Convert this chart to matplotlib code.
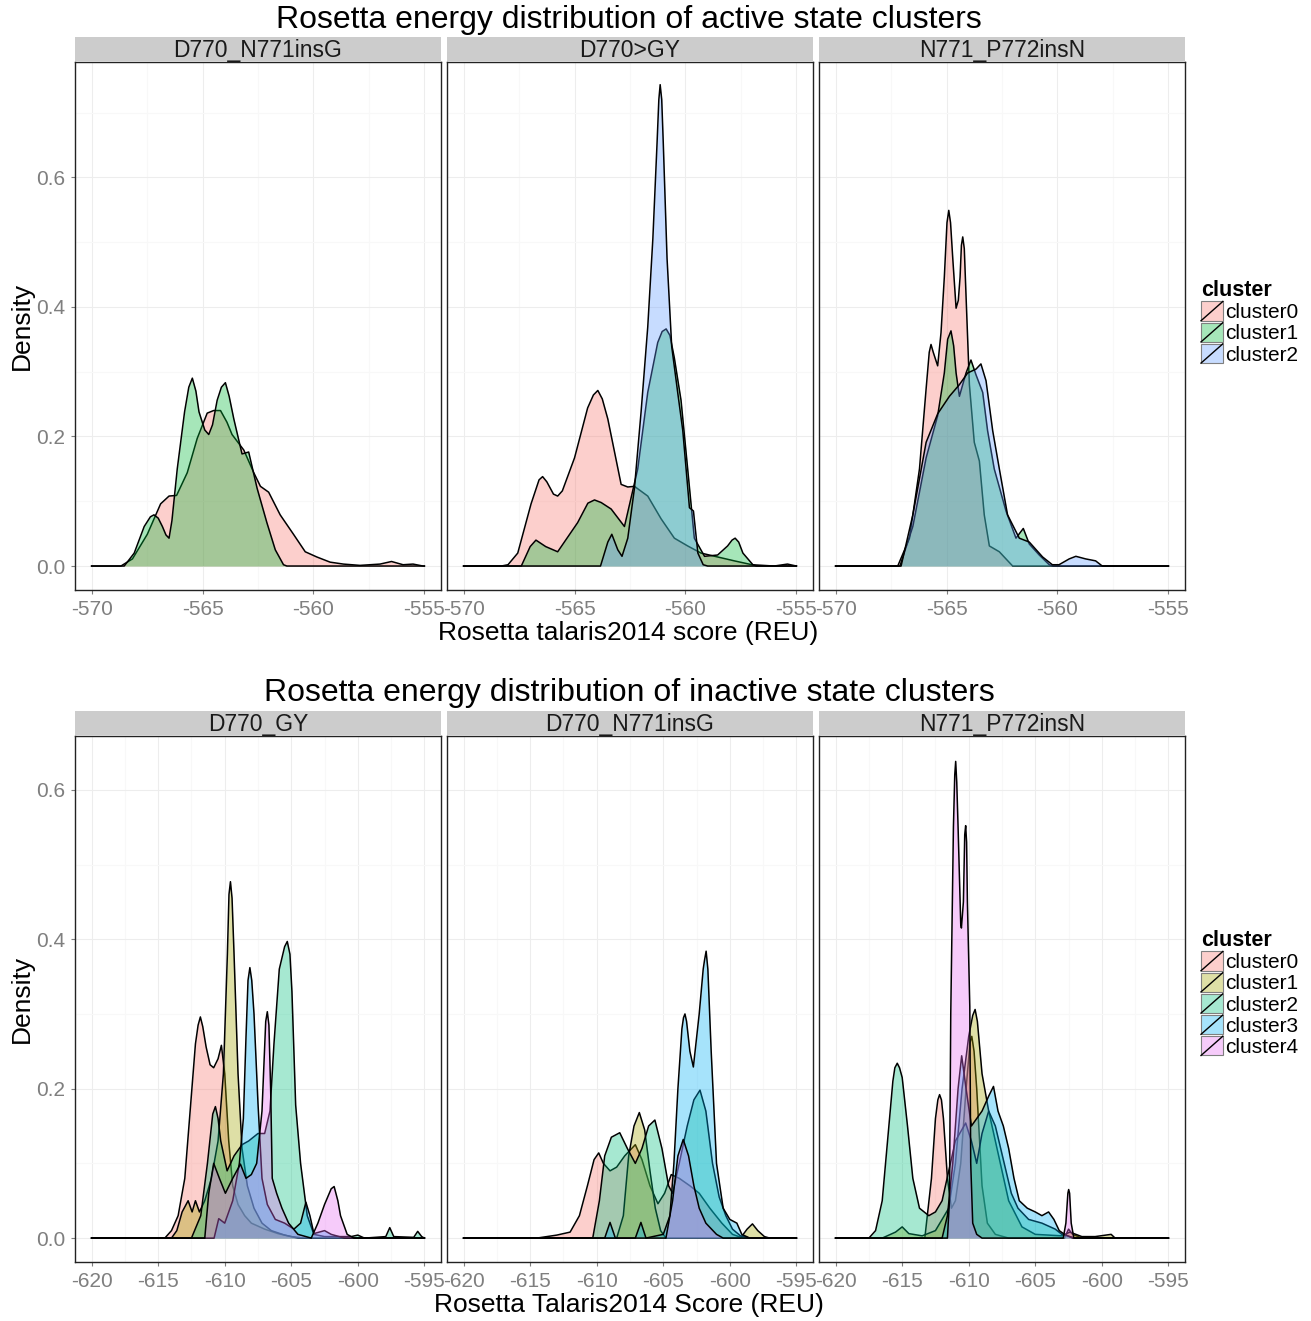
import matplotlib
matplotlib.use("Agg")
import matplotlib.pyplot as plt
from matplotlib.patches import Patch, Rectangle
from matplotlib.lines import Line2D
from matplotlib.legend_handler import HandlerBase

plt.rcParams['font.family'] = ['Liberation Sans', 'DejaVu Sans']
plt.rcParams['axes.unicode_minus'] = False

# ==== active state clusters: (score, density) points ====
act_insg_c0 = [(-568.68, 0), (-568.16, 0.011), (-567.49, 0.049), (-566.89, 0.096), (-566.51, 0.108),
               (-566.17, 0.109), (-565.69, 0.144), (-565.24, 0.197), (-564.79, 0.236), (-564.5, 0.24),
               (-564.19, 0.24), (-563.9, 0.222), (-563.67, 0.203), (-563.14, 0.179), (-562.69, 0.144),
               (-562.39, 0.123), (-562.02, 0.114), (-561.5, 0.079), (-560.9, 0.049), (-560.37, 0.022),
               (-559.85, 0.014), (-559.25, 0.006), (-558.65, 0.003), (-557.9, 0.001), (-557.0, 0.003),
               (-556.48, 0.007), (-555.96, 0.002), (-555.51, 0.003), (-555.06, 0)]
act_insg_c1 = [(-568.53, 0), (-568.08, 0.02), (-567.63, 0.061), (-567.35, 0.076), (-567.19, 0.079),
               (-567.0, 0.074), (-566.81, 0.061), (-566.65, 0.048), (-566.51, 0.043), (-566.38, 0.07),
               (-566.14, 0.15), (-565.81, 0.238), (-565.62, 0.276), (-565.46, 0.29), (-565.3, 0.27),
               (-565.16, 0.238), (-564.9, 0.21), (-564.72, 0.203), (-564.55, 0.218), (-564.34, 0.256),
               (-564.15, 0.276), (-563.97, 0.283), (-563.8, 0.262), (-563.59, 0.227), (-563.22, 0.173),
               (-562.92, 0.176), (-562.54, 0.12), (-562.1, 0.067), (-561.72, 0.025), (-561.35, 0.002),
               (-561.2, 0)]

act_gy_c0 = [(-568.3, 0), (-568.0, 0.002), (-567.56, 0.02), (-566.96, 0.096), (-566.6, 0.133),
             (-566.44, 0.138), (-566.25, 0.13), (-565.95, 0.111), (-565.76, 0.108), (-565.55, 0.116),
             (-565.0, 0.167), (-564.41, 0.244), (-564.15, 0.264), (-563.95, 0.271), (-563.75, 0.258),
             (-563.5, 0.227), (-562.9, 0.126), (-562.6, 0.122), (-562.3, 0.123), (-561.7, 0.108),
             (-561.1, 0.073), (-560.5, 0.043), (-559.9, 0.031), (-559.3, 0.02), (-558.55, 0.014),
             (-557.8, 0.008), (-557.0, 0.002), (-556.0, 0), (-555.4, 0.003), (-555.0, 0)]
act_gy_c1 = [(-567.4, 0), (-567.0, 0.03), (-566.74, 0.04), (-566.3, 0.03), (-565.76, 0.022),
             (-564.86, 0.067), (-564.4, 0.097), (-564.1, 0.102), (-563.8, 0.098), (-563.35, 0.088),
             (-562.75, 0.061), (-562.15, 0.15), (-561.7, 0.268), (-561.25, 0.345), (-561.05, 0.362),
             (-560.87, 0.366), (-560.7, 0.356), (-560.5, 0.321), (-560.2, 0.256), (-559.9, 0.15),
             (-559.6, 0.043), (-559.14, 0.015), (-558.55, 0.017), (-558.1, 0.031), (-557.9, 0.04),
             (-557.76, 0.043), (-557.6, 0.037), (-557.41, 0.02), (-556.96, 0.002), (-556.8, 0)]
act_gy_c2 = [(-563.83, 0), (-563.5, 0.037), (-563.32, 0.049), (-563.05, 0.025), (-562.86, 0.015),
             (-562.6, 0.043), (-562.3, 0.12), (-562.0, 0.238), (-561.7, 0.369), (-561.47, 0.505),
             (-561.28, 0.653), (-561.2, 0.72), (-561.14, 0.743), (-561.07, 0.72), (-561.0, 0.653),
             (-560.83, 0.475), (-560.62, 0.339), (-560.35, 0.268), (-560.12, 0.209), (-559.82, 0.09),
             (-559.64, 0.085), (-559.44, 0.02), (-559.2, 0.002), (-559.0, 0)]

act_insn_c0 = [(-567.2, 0), (-566.67, 0.043), (-566.22, 0.15), (-565.92, 0.274), (-565.78, 0.33),
               (-565.7, 0.342), (-565.6, 0.33), (-565.4, 0.309), (-565.25, 0.36), (-565.1, 0.446),
               (-564.98, 0.53), (-564.9, 0.549), (-564.82, 0.53), (-564.72, 0.475), (-564.57, 0.398),
               (-564.47, 0.41), (-564.39, 0.446), (-564.33, 0.495), (-564.27, 0.508), (-564.2, 0.49),
               (-564.12, 0.416), (-563.97, 0.28), (-563.75, 0.191), (-563.52, 0.162), (-563.3, 0.079),
               (-563.07, 0.031), (-562.62, 0.022), (-562.32, 0.011), (-562.02, 0)]
act_insn_c1 = [(-567.1, 0), (-566.52, 0.061), (-565.92, 0.167), (-565.4, 0.232), (-565.1, 0.298),
               (-564.95, 0.35), (-564.8, 0.363), (-564.68, 0.34), (-564.57, 0.298), (-564.42, 0.262),
               (-564.12, 0.298), (-563.9, 0.318), (-563.67, 0.295), (-563.37, 0.268), (-563.15, 0.209),
               (-562.85, 0.15), (-562.32, 0.085), (-561.87, 0.043), (-561.54, 0.058), (-561.27, 0.034),
               (-560.82, 0.017), (-560.37, 0.002), (-560.2, 0)]
act_insn_c2 = [(-567.05, 0), (-566.52, 0.079), (-565.92, 0.191), (-565.4, 0.235), (-564.87, 0.262),
               (-564.42, 0.28), (-564.05, 0.298), (-563.67, 0.304), (-563.45, 0.312), (-563.22, 0.286),
               (-562.92, 0.209), (-562.62, 0.15), (-562.25, 0.079), (-561.72, 0.043), (-561.27, 0.037),
               (-560.67, 0.014), (-560.23, 0.002), (-559.93, 0.002), (-559.47, 0.011), (-559.17, 0.015),
               (-558.73, 0.011), (-558.28, 0.008), (-557.98, 0)]

# ==== inactive state clusters ====
ina_gy_c0 = [(-614.5, 0), (-614.0, 0.01), (-613.5, 0.03), (-613.0, 0.08), (-612.6, 0.17), (-612.2, 0.26),
             (-612.0, 0.285), (-611.83, 0.296), (-611.65, 0.283), (-611.4, 0.256), (-611.1, 0.232),
             (-610.83, 0.228), (-610.5, 0.24), (-610.25, 0.258), (-610.0, 0.22), (-609.7, 0.13),
             (-609.4, 0.07), (-609.0, 0.045), (-608.5, 0.03), (-608.0, 0.02), (-607.0, 0.012), (-606.0, 0.006),
             (-605.0, 0.002), (-604.0, 0)]
ina_gy_c1 = [(-614.0, 0), (-613.6, 0.01), (-613.2, 0.035), (-612.75, 0.05), (-612.45, 0.035), (-612.2, 0.05),
             (-611.9, 0.035), (-611.5, 0.05), (-611.0, 0.08), (-610.5, 0.13), (-610.1, 0.22), (-609.8, 0.38),
             (-609.68, 0.46), (-609.57, 0.477), (-609.45, 0.455), (-609.3, 0.38), (-609.0, 0.22),
             (-608.7, 0.12), (-608.3, 0.07), (-607.8, 0.04), (-607.2, 0.02), (-606.5, 0.01), (-605.5, 0.004),
             (-604.5, 0)]
ina_gy_c2 = [(-612.5, 0), (-611.8, 0.03), (-611.3, 0.1), (-610.9, 0.166), (-610.7, 0.176), (-610.5, 0.16),
             (-610.3, 0.13), (-609.82, 0.09), (-609.3, 0.11), (-608.7, 0.125), (-608.2, 0.13), (-607.5, 0.14),
             (-607.0, 0.14), (-606.6, 0.17), (-606.3, 0.26), (-605.9, 0.36), (-605.5, 0.39), (-605.3, 0.397),
             (-605.1, 0.38), (-604.95, 0.33), (-604.67, 0.178), (-604.3, 0.1), (-603.8, 0.03), (-603.3, 0.005),
             (-602.5, 0.002), (-600.5, 0.002), (-600.0, 0.004), (-599.5, 0), (-597.9, 0.002), (-597.6, 0.014),
             (-597.3, 0.002), (-595.8, 0.001), (-595.5, 0.009), (-595.2, 0.002), (-595.0, 0)]
ina_gy_c3 = [(-610.8, 0), (-610.45, 0.026), (-610.0, 0.02), (-609.4, 0.05), (-608.9, 0.1), (-608.6, 0.16),
             (-608.4, 0.27), (-608.25, 0.345), (-608.11, 0.362), (-607.97, 0.345), (-607.8, 0.3),
             (-607.5, 0.18), (-607.2, 0.08), (-606.8, 0.045), (-606.2, 0.025), (-605.5, 0.02), (-604.8, 0.012),
             (-604.3, 0.02), (-603.9, 0.048), (-603.6, 0.03), (-603.3, 0.006), (-602.5, 0.01), (-602.0, 0.005),
             (-601.0, 0)]
ina_gy_c4 = [(-611.5, 0), (-611.2, 0.06), (-610.83, 0.1), (-610.4, 0.08), (-609.95, 0.06), (-609.4, 0.08),
             (-608.82, 0.099), (-608.4, 0.08), (-608.0, 0.085), (-607.6, 0.1), (-607.2, 0.17),
             (-606.92, 0.29), (-606.8, 0.303), (-606.68, 0.285), (-606.55, 0.2), (-606.43, 0.08),
             (-606.1, 0.06), (-605.7, 0.04), (-605.2, 0.02), (-604.5, 0.005), (-603.5, 0), (-603.0, 0.02),
             (-602.5, 0.045), (-602.0, 0.066), (-601.78, 0.069), (-601.5, 0.05), (-601.3, 0.03),
             (-600.8, 0.005), (-600.3, 0)]

ina_insg_c0 = [(-614.5, 0), (-613.0, 0.004), (-612.0, 0.008), (-611.3, 0.03), (-610.7, 0.07), (-610.2, 0.105),
               (-609.85, 0.114), (-609.5, 0.1), (-609.0, 0.09), (-608.5, 0.095), (-607.9, 0.11), (-607.1, 0.125),
               (-606.6, 0.105), (-606.0, 0.07), (-605.4, 0.046), (-604.9, 0.06), (-604.4, 0.085), (-603.8, 0.08),
               (-603.0, 0.07), (-602.3, 0.06), (-601.5, 0.04), (-600.6, 0.02), (-599.8, 0.005), (-599.0, 0)]
ina_insg_c1 = [(-608.5, 0), (-608.0, 0.03), (-607.6, 0.11), (-607.2, 0.15), (-606.8, 0.168), (-606.4, 0.145),
               (-606.0, 0.09), (-605.6, 0.04), (-605.2, 0.01), (-604.8, 0), (-599.2, 0), (-598.7, 0.012),
               (-598.3, 0.019), (-597.9, 0.01), (-597.4, 0.002), (-597.0, 0)]
ina_insg_c2 = [(-610.3, 0), (-609.8, 0.05), (-609.4, 0.11), (-608.9, 0.135), (-608.27, 0.141), (-607.7, 0.12),
               (-607.1, 0.1), (-606.6, 0.12), (-606.1, 0.15), (-605.63, 0.158), (-605.1, 0.12), (-604.6, 0.07),
               (-604.3, 0.06), (-603.8, 0.1), (-603.2, 0.15), (-602.7, 0.185), (-602.24, 0.198), (-601.8, 0.17),
               (-601.3, 0.1), (-600.8, 0.055), (-600.3, 0.03), (-599.8, 0.012), (-599.2, 0.003), (-598.5, 0)]
ina_insg_c3 = [(-609.4, 0), (-609.0, 0.021), (-608.6, 0), (-607.1, 0), (-606.68, 0.021), (-606.3, 0),
               (-605.0, 0.005), (-604.5, 0.03), (-604.2, 0.1), (-603.9, 0.2), (-603.6, 0.28), (-603.48, 0.295),
               (-603.37, 0.30), (-603.25, 0.29), (-603.0, 0.25), (-602.74, 0.229), (-602.3, 0.3),
               (-602.0, 0.36), (-601.9, 0.372), (-601.78, 0.384), (-601.65, 0.36), (-601.4, 0.25),
               (-601.0, 0.1), (-600.5, 0.04), (-600.0, 0.025), (-599.47, 0.02), (-599.1, 0.005), (-598.5, 0)]
ina_insg_c4 = [(-604.8, 0), (-604.3, 0.05), (-603.9, 0.11), (-603.5, 0.132), (-603.1, 0.11), (-602.7, 0.07),
               (-602.3, 0.04), (-601.8, 0.02), (-601.0, 0.005), (-600.5, 0)]

ina_insn_c0 = [(-613.3, 0), (-612.8, 0.08), (-612.5, 0.16), (-612.32, 0.185), (-612.19, 0.192),
               (-612.05, 0.185), (-611.9, 0.16), (-611.6, 0.08), (-611.3, 0.04), (-611.0, 0.05), (-610.6, 0.1),
               (-610.2, 0.2), (-609.9, 0.262), (-609.77, 0.27), (-609.6, 0.25), (-609.4, 0.2), (-609.0, 0.07),
               (-608.6, 0.02), (-608.0, 0.005), (-607.0, 0), (-602.8, 0), (-602.5, 0.012), (-602.2, 0.005),
               (-601.5, 0)]
ina_insn_c1 = [(-616.5, 0), (-615.5, 0.008), (-615.0, 0.015), (-614.5, 0.006), (-613.5, 0.003), (-612.5, 0.01),
               (-611.5, 0.04), (-611.0, 0.1), (-610.5, 0.2), (-610.0, 0.27), (-609.7, 0.298), (-609.52, 0.306),
               (-609.35, 0.29), (-609.0, 0.22), (-608.5, 0.17), (-608.0, 0.13), (-607.5, 0.09), (-607.0, 0.05),
               (-606.0, 0.015), (-605.0, 0.005), (-603.0, 0.003), (-602.4, 0.008), (-601.5, 0.002),
               (-600.5, 0.002), (-599.3, 0.005), (-599.0, 0)]
ina_insn_c2 = [(-617.5, 0), (-617.0, 0.01), (-616.5, 0.05), (-616.0, 0.15), (-615.7, 0.21), (-615.55, 0.228),
               (-615.37, 0.234), (-615.2, 0.228), (-615.0, 0.215), (-614.6, 0.15), (-614.2, 0.08),
               (-613.7, 0.04), (-613.0, 0.03), (-612.5, 0.035), (-612.0, 0.05), (-611.5, 0.09), (-611.0, 0.13),
               (-610.23, 0.154), (-609.8, 0.13), (-609.4, 0.1), (-609.0, 0.14), (-608.5, 0.17), (-608.0, 0.15),
               (-607.6, 0.12), (-607.2, 0.09), (-606.8, 0.06), (-606.3, 0.04), (-605.5, 0.025), (-604.5, 0.02),
               (-603.5, 0.012), (-603.0, 0.005), (-602.0, 0)]
ina_insn_c3 = [(-612.0, 0), (-611.6, 0.03), (-611.2, 0.1), (-610.8, 0.2), (-610.53, 0.244), (-610.2, 0.2),
               (-609.8, 0.15), (-609.4, 0.16), (-609.0, 0.17), (-608.5, 0.19), (-608.14, 0.203), (-607.8, 0.17),
               (-607.4, 0.15), (-607.0, 0.12), (-606.6, 0.08), (-606.2, 0.05), (-605.6, 0.04), (-605.0, 0.035),
               (-604.5, 0.03), (-604.0, 0.035), (-603.6, 0.025), (-603.2, 0.01), (-602.8, 0.005), (-602.2, 0)]
ina_insn_c4 = [(-611.6, 0), (-611.45, 0.05), (-611.35, 0.3), (-611.15, 0.55), (-611.05, 0.62), (-610.98, 0.638),
               (-610.9, 0.61), (-610.8, 0.55), (-610.6, 0.42), (-610.55, 0.415), (-610.4, 0.45),
               (-610.3, 0.54), (-610.23, 0.552), (-610.16, 0.53), (-610.1, 0.45), (-609.92, 0.31),
               (-609.85, 0.1), (-609.7, 0.02), (-609.4, 0.005), (-609.0, 0), (-602.9, 0), (-602.7, 0.02),
               (-602.55, 0.06), (-602.49, 0.065), (-602.42, 0.06), (-602.3, 0.02), (-602.1, 0)]

top_facets = ["D770_N771insG", "D770>GY", "N771_P772insN"]
bottom_facets = ["D770_GY", "D770_N771insG", "N771_P772insN"]
top_curves = [[act_insg_c0, act_insg_c1], [act_gy_c0, act_gy_c1, act_gy_c2],
              [act_insn_c0, act_insn_c1, act_insn_c2]]
bottom_curves = [[ina_gy_c0, ina_gy_c1, ina_gy_c2, ina_gy_c3, ina_gy_c4],
                 [ina_insg_c0, ina_insg_c1, ina_insg_c2, ina_insg_c3, ina_insg_c4],
                 [ina_insn_c0, ina_insn_c1, ina_insn_c2, ina_insn_c3, ina_insn_c4]]
top_labels = ["cluster0", "cluster1", "cluster2"]
bottom_labels = ["cluster0", "cluster1", "cluster2", "cluster3", "cluster4"]
top_colors = ["#F8766D", "#00BA38", "#619CFF"]
bottom_colors = ["#F8766D", "#A3A500", "#00BF7D", "#00B0F6", "#E76BF3"]

ALPHA = 0.35
W, H = 1311, 1321
fig = plt.figure(figsize=(W / 100, H / 100), dpi=100)


def px_axes(l, t, r, b):
    return fig.add_axes([l / W, 1 - b / H, (r - l) / W, (b - t) / H])


class DiagKey(HandlerBase):
    def create_artists(self, legend, orig, xd, yd, width, height, fontsize, trans):
        r = Rectangle((-xd, -yd), width, height, facecolor=orig.get_facecolor(),
                      edgecolor="#7f7f7f", lw=0.8, transform=trans)
        ln = Line2D([-xd, -xd + width], [-yd, -yd + height], color="black", lw=1.0, transform=trans)
        return [r, ln]


cols = [(75, 441), (447, 813), (819, 1185)]


def draw_block(facets, curves, colors, strip_tb, panel_tb, xrange_, xticks, xminor, ylim, yminor):
    for i, (l, r) in enumerate(cols):
        st = px_axes(l, strip_tb[0], r, strip_tb[1])
        st.set_facecolor("#cccccc")
        st.set_xticks([])
        st.set_yticks([])
        for s in st.spines.values():
            s.set_visible(False)
        st.text(0.5, 0.45, facets[i], ha="center", va="center", fontsize=16.5, color="#1a1a1a",
                transform=st.transAxes)

        ax = px_axes(l, panel_tb[0], r, panel_tb[1])
        x0, x1 = xrange_
        pad = (x1 - x0) * 0.05
        ax.set_xlim(x0 - pad, x1 + pad)
        ax.set_ylim(*ylim)
        ax.set_xticks(xticks)
        ax.set_xticks(xminor, minor=True)
        ax.set_yticks([0, 0.2, 0.4, 0.6])
        ax.set_yticks(yminor, minor=True)
        ax.set_xticklabels([str(t) for t in xticks])
        ax.set_yticklabels(["0.0", "0.2", "0.4", "0.6"])
        ax.grid(which="major", color="#ededed", lw=0.8)
        ax.grid(which="minor", color="#f8f8f8", lw=0.8)
        ax.set_axisbelow(True)
        ax.tick_params(which="major", length=3, width=0.8, color="#7f7f7f", labelcolor="#7f7f7f",
                       labelsize=15, pad=4)
        ax.tick_params(which="minor", length=0)
        if i > 0:
            ax.tick_params(axis="y", which="both", left=False, labelleft=False)
        for s in ax.spines.values():
            s.set_color("#222222")
            s.set_linewidth(1.0)

        for k, pts in enumerate(curves[i]):
            xs = [x0] + [p[0] for p in pts] + [x1]
            ys = [0] + [p[1] for p in pts] + [0]
            ax.fill_between(xs, 0, ys, color=colors[k], alpha=ALPHA, lw=0, zorder=2 + k)
            ax.plot(xs, ys, color="black", lw=1.1, zorder=2.5 + k, solid_joinstyle="round")


draw_block(top_facets, top_curves, top_colors, (37, 61), (62, 590), (-570, -555),
           [-570, -565, -560, -555], [-567.5, -562.5, -557.5], (-0.037, 0.778), [0.1, 0.3, 0.5, 0.7])
draw_block(bottom_facets, bottom_curves, bottom_colors, (711, 735), (736, 1262), (-620, -595),
           [-620, -615, -610, -605, -600, -595], [-617.5, -612.5, -607.5, -602.5, -597.5],
           (-0.032, 0.672), [0.1, 0.3, 0.5])

fig.text(629 / W, 1 - 20 / H, "Rosetta energy distribution of active state clusters",
         ha="center", va="center", fontsize=23)
fig.text(629 / W, 1 - 693 / H, "Rosetta energy distribution of inactive state clusters",
         ha="center", va="center", fontsize=23)
fig.text(628 / W, 1 - 633 / H, "Rosetta talaris2014 score (REU)", ha="center", va="center", fontsize=19)
fig.text(629 / W, 1 - 1305 / H, "Rosetta Talaris2014 Score (REU)", ha="center", va="center", fontsize=19)
fig.text(22 / W, 1 - 326 / H, "Density", ha="center", va="center", rotation=90, fontsize=19)
fig.text(22 / W, 1 - 999 / H, "Density", ha="center", va="center", rotation=90, fontsize=19)

for labels, colors, top in [(top_labels, top_colors, 280), (bottom_labels, bottom_colors, 930)]:
    handles = [Patch(facecolor=c, alpha=ALPHA) for c in colors]
    leg = fig.legend(handles, labels, loc="upper left", bbox_to_anchor=(1201 / W, 1 - top / H),
                     title="cluster", frameon=False, fontsize=15, handlelength=1.05, handleheight=1.05,
                     handletextpad=0.12, labelspacing=0.02, borderpad=0, borderaxespad=0,
                     alignment="left", handler_map={Patch: DiagKey()})
    leg.get_title().set_fontweight("bold")
    leg.get_title().set_fontsize(15.5)

fig.savefig("out.png", dpi=100)
